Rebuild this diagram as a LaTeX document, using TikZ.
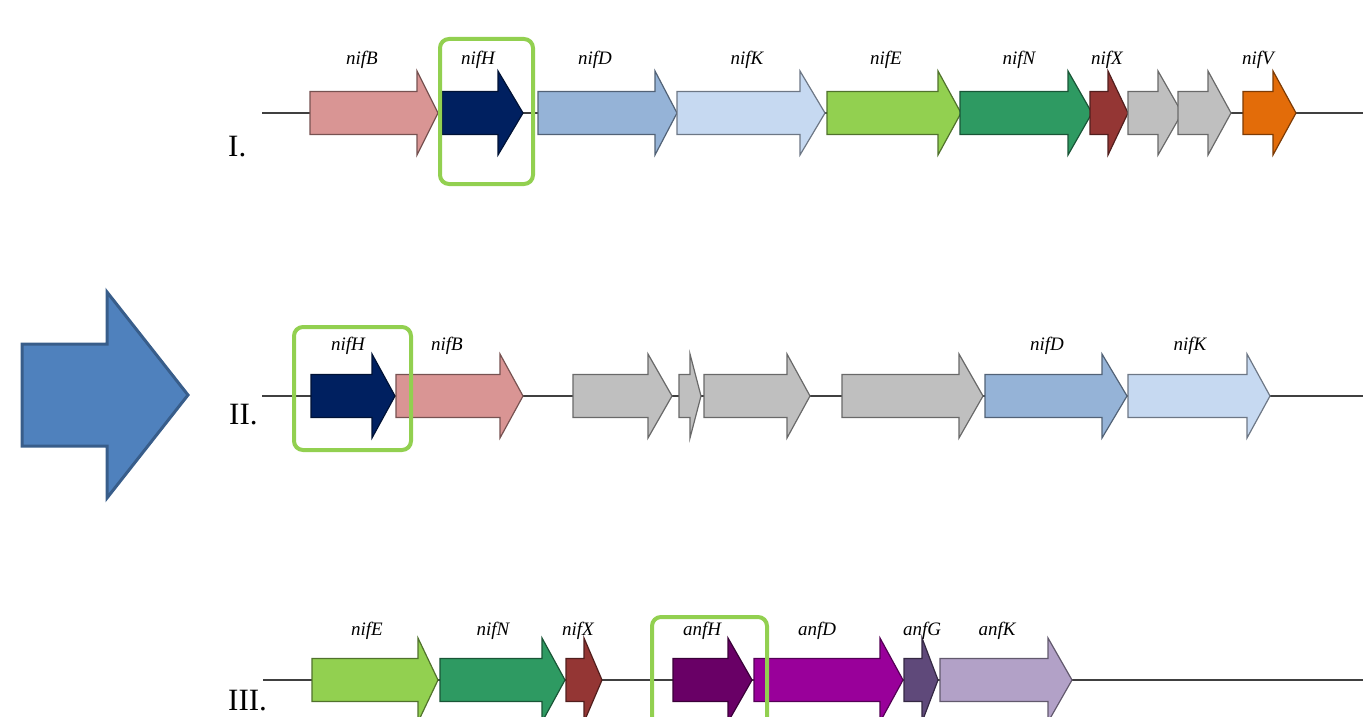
\documentclass[tikz,border=0pt]{standalone}
\usepackage{fontspec}
\setmainfont{Liberation Serif}
\definecolor{cB}{HTML}{D99594}
\definecolor{cH}{HTML}{002060}
\definecolor{cD}{HTML}{95B3D7}
\definecolor{cK}{HTML}{C6D9F1}
\definecolor{cE}{HTML}{92D050}
\definecolor{cN}{HTML}{2E9A62}
\definecolor{cX}{HTML}{943634}
\definecolor{cG}{HTML}{BFBFBF}
\definecolor{cV}{HTML}{E36C09}
\definecolor{caH}{HTML}{690066}
\definecolor{caD}{HTML}{99009A}
\definecolor{caG}{HTML}{5F497A}
\definecolor{caK}{HTML}{B2A1C7}
\definecolor{boxgreen}{HTML}{92D050}
\definecolor{bigfill}{HTML}{4F81BD}
\definecolor{bigdraw}{HTML}{385D8A}
\newcommand{\genearrow}[5]{%
  \filldraw[genestyle, fill=#5, draw=#5!55!black]
    (#1,{#4-21.5}) -- (#2,{#4-21.5}) -- (#2,{#4-42}) -- (#3,#4)
    -- (#2,{#4+42}) -- (#2,{#4+21.5}) -- (#1,{#4+21.5}) -- cycle;}
\tikzset{
  genestyle/.style={line width=1.2pt, line join=miter},
  backbone/.style={line width=1.5pt, draw=black!75},
  genelabel/.style={anchor=base, inner sep=0pt, font=\fontsize{19}{19}\selectfont\itshape},
  rowlabel/.style={anchor=base west, inner sep=0pt, font=\fontsize{31}{31}\selectfont},
  hibox/.style={draw=boxgreen, line width=4pt, rounded corners=9pt}
}
\begin{document}
\begin{tikzpicture}[x=1pt, y=-1pt]
\useasboundingbox (0,0) rectangle (1363,717);
% big arrow
\filldraw[fill=bigfill, draw=bigdraw, line width=3pt, line join=miter]
  (22,344) -- (107,344) -- (107,292) -- (188,395) -- (107,498) -- (107,446) -- (22,446) -- cycle;
% row labels
\node[rowlabel] (rI) at (228,156) {I.};
\node[rowlabel] (rII) at (229,424) {II.};
\node[rowlabel] (rIII) at (228,710) {III.};
% backbones
\coordinate (aI) at (262,113); \coordinate (bI) at (1363,113);
\coordinate (aII) at (262,396); \coordinate (bII) at (1363,396);
\coordinate (aIII) at (263,680); \coordinate (bIII) at (1363,680);
\draw[backbone] (aI) -- (bI);
\draw[backbone] (aII) -- (bII);
\draw[backbone] (aIII) -- (bIII);
% row I genes
\genearrow{310}{417}{438}{113}{cB}
\genearrow{442}{498}{523}{113}{cH}
\genearrow{538}{655}{677}{113}{cD}
\genearrow{677}{800}{825}{113}{cK}
\genearrow{827}{938}{961}{113}{cE}
\genearrow{960}{1068}{1092}{113}{cN}
\genearrow{1090}{1108}{1128}{113}{cX}
\genearrow{1128}{1158}{1182}{113}{cG}
\genearrow{1178}{1208}{1231}{113}{cG}
\genearrow{1243}{1273}{1296}{113}{cV}
\node[genelabel] (lIB) at (362,65) {nifB};
\node[genelabel] (lIH) at (478,65) {nifH};
\node[genelabel] (lID) at (595,65) {nifD};
\node[genelabel] (lIK) at (747,65) {nifK};
\node[genelabel] (lIE) at (886,65) {nifE};
\node[genelabel] (lIN) at (1019,65) {nifN};
\node[genelabel] (lIX) at (1107,65) {nifX};
\node[genelabel] (lIV) at (1258,65) {nifV};
% row II genes
\genearrow{311}{372}{395}{396}{cH}
\genearrow{396}{500}{523}{396}{cB}
\genearrow{573}{648}{672}{396}{cG}
\genearrow{679}{690}{701}{396}{cG}
\genearrow{704}{787}{810}{396}{cG}
\genearrow{842}{959}{983}{396}{cG}
\genearrow{985}{1102}{1127}{396}{cD}
\genearrow{1128}{1247}{1270}{396}{cK}
\node[genelabel] (lIIH) at (348,350) {nifH};
\node[genelabel] (lIIB) at (447,350) {nifB};
\node[genelabel] (lIID) at (1047,350) {nifD};
\node[genelabel] (lIIK) at (1190,350) {nifK};
% row III genes
\genearrow{312}{418}{438}{680}{cE}
\genearrow{440}{542}{565}{680}{cN}
\genearrow{566}{584}{602}{680}{cX}
\genearrow{673}{728}{752}{680}{caH}
\genearrow{754}{880}{903}{680}{caD}
\genearrow{904}{922}{938}{680}{caG}
\genearrow{940}{1048}{1072}{680}{caK}
\node[genelabel] (lIIIE) at (367,635) {nifE};
\node[genelabel] (lIIIN) at (493,635) {nifN};
\node[genelabel] (lIIIX) at (578,635) {nifX};
\node[genelabel] (lIIIaH) at (702,635) {anfH};
\node[genelabel] (lIIIaD) at (817,635) {anfD};
\node[genelabel] (lIIIaG) at (922,635) {anfG};
\node[genelabel] (lIIIaK) at (997,635) {anfK};
% highlight boxes
\draw[hibox] (440,39) rectangle (533,184);
\draw[hibox] (294,327) rectangle (411,450);
\draw[hibox] (652,617) rectangle (767,740);
\end{tikzpicture}
\end{document}
